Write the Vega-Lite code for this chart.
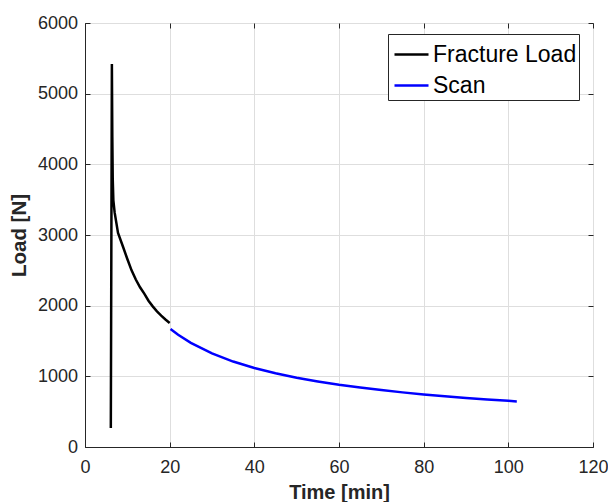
{
  "$schema": "https://vega.github.io/schema/vega-lite/v6.json",
  "width": 508,
  "height": 424,
  "autosize": {"type": "none"},
  "padding": {"left": 85, "top": 23, "right": 15, "bottom": 55},
  "background": "white",
  "config": {
    "view": {"stroke": "#262626", "strokeWidth": 1},
    "font": "Liberation Sans"
  },
  "data": {
    "values": [
      {"i": 1, "series": "Fracture Load", "t": 6.1, "load": 270},
      {"i": 2, "series": "Fracture Load", "t": 6.35, "load": 5420},
      {"i": 3, "series": "Fracture Load", "t": 6.45, "load": 4400},
      {"i": 4, "series": "Fracture Load", "t": 6.55, "load": 3800},
      {"i": 5, "series": "Fracture Load", "t": 6.7, "load": 3490},
      {"i": 6, "series": "Fracture Load", "t": 7.0, "load": 3320},
      {"i": 7, "series": "Fracture Load", "t": 7.8, "load": 3030},
      {"i": 8, "series": "Fracture Load", "t": 9.0, "load": 2830},
      {"i": 9, "series": "Fracture Load", "t": 10.0, "load": 2660},
      {"i": 10, "series": "Fracture Load", "t": 11.0, "load": 2500},
      {"i": 11, "series": "Fracture Load", "t": 12.0, "load": 2370},
      {"i": 12, "series": "Fracture Load", "t": 13.0, "load": 2260},
      {"i": 13, "series": "Fracture Load", "t": 14.0, "load": 2170},
      {"i": 14, "series": "Fracture Load", "t": 15.0, "load": 2070},
      {"i": 15, "series": "Fracture Load", "t": 16.0, "load": 1990},
      {"i": 16, "series": "Fracture Load", "t": 17.0, "load": 1920},
      {"i": 17, "series": "Fracture Load", "t": 18.0, "load": 1860},
      {"i": 18, "series": "Fracture Load", "t": 19.0, "load": 1805},
      {"i": 19, "series": "Fracture Load", "t": 20.0, "load": 1756},
      {"i": 20, "series": "Scan", "t": 20.2, "load": 1670},
      {"i": 21, "series": "Scan", "t": 22, "load": 1588},
      {"i": 22, "series": "Scan", "t": 25, "load": 1474},
      {"i": 23, "series": "Scan", "t": 30, "load": 1324},
      {"i": 24, "series": "Scan", "t": 35, "load": 1209},
      {"i": 25, "series": "Scan", "t": 40, "load": 1118},
      {"i": 26, "series": "Scan", "t": 45, "load": 1044},
      {"i": 27, "series": "Scan", "t": 50, "load": 981},
      {"i": 28, "series": "Scan", "t": 55, "load": 928},
      {"i": 29, "series": "Scan", "t": 60, "load": 881},
      {"i": 30, "series": "Scan", "t": 65, "load": 841},
      {"i": 31, "series": "Scan", "t": 70, "load": 805},
      {"i": 32, "series": "Scan", "t": 75, "load": 773},
      {"i": 33, "series": "Scan", "t": 80, "load": 744},
      {"i": 34, "series": "Scan", "t": 85, "load": 718},
      {"i": 35, "series": "Scan", "t": 90, "load": 695},
      {"i": 36, "series": "Scan", "t": 95, "load": 673},
      {"i": 37, "series": "Scan", "t": 100, "load": 653},
      {"i": 38, "series": "Scan", "t": 102, "load": 645}
    ]
  },
  "resolve": {"axis": {"x": "independent", "y": "independent"}},
  "layer": [
    {
      "mark": {"type": "line", "strokeWidth": 2.5, "opacity": 0},
      "encoding": {
        "x": {"field": "t", "type": "quantitative", "scale": {"domain": [0, 120], "nice": false},
          "axis": {"orient": "top", "values": [0, 20, 40, 60, 80, 100, 120], "labels": false, "title": null, "grid": false, "domain": false, "tickSize": -5, "tickColor": "#262626"}},
        "y": {"field": "load", "type": "quantitative", "scale": {"domain": [0, 6000], "nice": false},
          "axis": {"orient": "right", "values": [0, 1000, 2000, 3000, 4000, 5000, 6000], "labels": false, "title": null, "grid": false, "domain": false, "tickSize": -5, "tickColor": "#262626"}},
        "detail": {"field": "series", "type": "nominal"},
        "order": {"field": "i", "type": "quantitative"}
      }
    },
    {
      "mark": {"type": "line", "strokeWidth": 2.5},
      "encoding": {
        "x": {"field": "t", "type": "quantitative", "scale": {"domain": [0, 120], "nice": false},
          "axis": {"orient": "bottom", "values": [0, 20, 40, 60, 80, 100, 120], "labelFlush": false, "title": "Time [min]", "titleFont": "Liberation Sans", "titleFontSize": 20, "titleFontWeight": "bold", "titleColor": "#262626", "titlePadding": 6, "labelFont": "Liberation Sans", "labelFontSize": 18, "labelColor": "#262626", "labelPadding": 16, "tickSize": -5, "tickColor": "#262626", "domainColor": "#262626", "gridColor": "#dedede", "grid": true}},
        "y": {"field": "load", "type": "quantitative", "scale": {"domain": [0, 6000], "nice": false},
          "axis": {"orient": "left", "values": [0, 1000, 2000, 3000, 4000, 5000, 6000], "labelFlush": false, "format": "d", "title": "Load [N]", "titleFont": "Liberation Sans", "titleFontSize": 20.5, "titleFontWeight": "bold", "titleColor": "#262626", "titlePadding": 8, "labelFont": "Liberation Sans", "labelFontSize": 18, "labelColor": "#262626", "labelPadding": 12.5, "tickSize": -5, "tickColor": "#262626", "domainColor": "#262626", "gridColor": "#dedede", "grid": true}},
        "color": {"field": "series", "type": "nominal",
          "scale": {"domain": ["Fracture Load", "Scan"], "range": ["#000000", "#0000ff"]},
          "legend": {"orient": "none", "legendX": 303, "legendY": 11, "title": null, "strokeColor": "#262626", "fillColor": "white", "padding": 2, "labelFont": "Liberation Sans", "labelFontSize": 23, "labelColor": "#000000", "labelOffset": 3, "symbolOffset": 3, "symbolType": "stroke", "symbolStrokeWidth": 2.5, "symbolSize": 1156, "rowPadding": -7}},
        "order": {"field": "i", "type": "quantitative"}
      }
    }
  ]
}
